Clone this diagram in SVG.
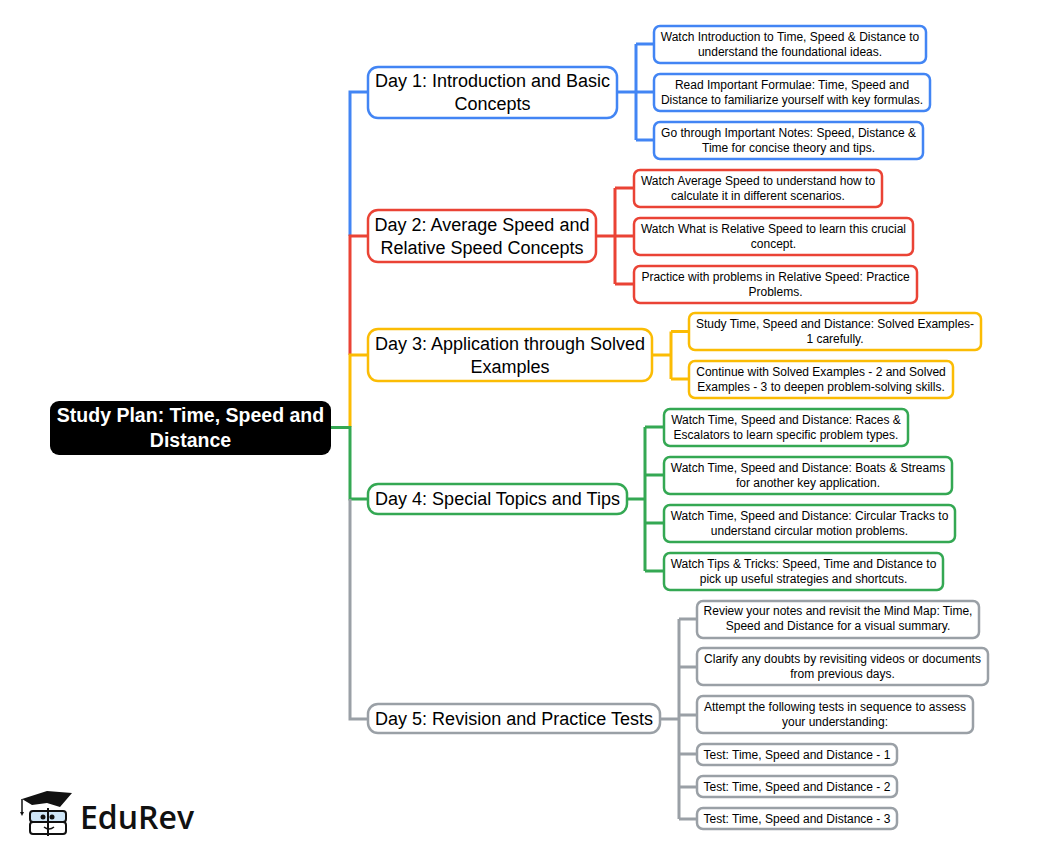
<svg xmlns="http://www.w3.org/2000/svg" width="1039" height="856" viewBox="0 0 1039 856">
<style>
text{font-family:"Liberation Sans",Arial,sans-serif;fill:#000;text-anchor:middle}
.d text{font-size:18px}
.c text{font-size:12px}
.n{fill:#fff;stroke-width:2.500}
.l{fill:none;stroke-width:3}
.b{stroke:#4285f4}.r{stroke:#ea4335}.y{stroke:#fbbc04}.g{stroke:#34a853}.a{stroke:#9aa0a6}
</style>
<rect width="1039" height="856" fill="#fff"/>
<g id="connectors">
<path class="l b" d="M368 92H350V236M617 92H654M636 44V140M636 44H654M636 140H654"/>
<path class="l r" d="M368 236H350V355M596 236H634M615 188V284M615 188H634M615 284H634"/>
<path class="l y" d="M368 355H350V427M652 355H671M671 331.500V379M671 331.500H689M671 379H689"/>
<path class="l g" d="M331 427.500H350V499H368M627 499H645M645 427V571M645 427H664M645 475H664M645 523H664M645 571H664"/>
<path class="l a" d="M350 499V719H368M660 719H679M679 619V819M679 619H697M679 667H697M679 715H697M679 754H697M679 787H697M679 819H697"/>
</g>
<g id="root"><rect x="50" y="401" width="281" height="54" rx="9" fill="#000"/><text x="190.500" y="422" style="font-size:19.500px;font-weight:700;fill:#fff">Study Plan: Time, Speed and</text><text x="190.500" y="447" style="font-size:19.500px;font-weight:700;fill:#fff">Distance</text></g>
<g id="day1" class="d"><rect class="n b" x="368" y="67" width="249" height="51" rx="10"/><text x="492.500" y="87">Day 1: Introduction and Basic</text><text x="492.500" y="110">Concepts</text></g>
<g id="day2" class="d"><rect class="n r" x="368" y="210" width="228" height="52" rx="10"/><text x="482" y="231">Day 2: Average Speed and</text><text x="482" y="254">Relative Speed Concepts</text></g>
<g id="day3" class="d"><rect class="n y" x="368" y="329" width="284" height="52" rx="10"/><text x="510" y="350">Day 3: Application through Solved</text><text x="510" y="373">Examples</text></g>
<g id="day4" class="d"><rect class="n g" x="368" y="484" width="259" height="30" rx="10"/><text x="497.500" y="505">Day 4: Special Topics and Tips</text></g>
<g id="day5" class="d"><rect class="n a" x="368" y="704" width="292" height="29" rx="10"/><text x="514" y="725">Day 5: Revision and Practice Tests</text></g>
<g id="c11" class="c"><rect class="n b" x="654" y="26" width="272" height="37" rx="6"/><text x="790" y="41">Watch Introduction to Time, Speed &amp; Distance to</text><text x="790" y="56">understand the foundational ideas.</text></g>
<g id="c12" class="c"><rect class="n b" x="654" y="74" width="276" height="37" rx="6"/><text x="792" y="89">Read Important Formulae: Time, Speed and</text><text x="792" y="104">Distance to familiarize yourself with key formulas.</text></g>
<g id="c13" class="c"><rect class="n b" x="654" y="122" width="269" height="37" rx="6"/><text x="788.500" y="137">Go through Important Notes: Speed, Distance &amp;</text><text x="788.500" y="152">Time for concise theory and tips.</text></g>
<g id="c21" class="c"><rect class="n r" x="634" y="170" width="248" height="37" rx="6"/><text x="758" y="185">Watch Average Speed to understand how to</text><text x="758" y="200">calculate it in different scenarios.</text></g>
<g id="c22" class="c"><rect class="n r" x="634" y="218" width="279" height="37" rx="6"/><text x="773.500" y="233">Watch What is Relative Speed to learn this crucial</text><text x="773.500" y="248">concept.</text></g>
<g id="c23" class="c"><rect class="n r" x="634" y="266" width="283" height="37" rx="6"/><text x="775.500" y="281">Practice with problems in Relative Speed: Practice</text><text x="775.500" y="296">Problems.</text></g>
<g id="c31" class="c"><rect class="n y" x="689" y="313" width="292" height="37" rx="6"/><text x="835" y="328">Study Time, Speed and Distance: Solved Examples-</text><text x="835" y="343">1 carefully.</text></g>
<g id="c32" class="c"><rect class="n y" x="689" y="361" width="264" height="37" rx="6"/><text x="821" y="376">Continue with Solved Examples - 2 and Solved</text><text x="821" y="391">Examples - 3 to deepen problem-solving skills.</text></g>
<g id="c41" class="c"><rect class="n g" x="664" y="409" width="244" height="37" rx="6"/><text x="786" y="424">Watch Time, Speed and Distance: Races &amp;</text><text x="786" y="439">Escalators to learn specific problem types.</text></g>
<g id="c42" class="c"><rect class="n g" x="664" y="457" width="288" height="37" rx="6"/><text x="808" y="472">Watch Time, Speed and Distance: Boats &amp; Streams</text><text x="808" y="487">for another key application.</text></g>
<g id="c43" class="c"><rect class="n g" x="664" y="505" width="291" height="37" rx="6"/><text x="809.500" y="520">Watch Time, Speed and Distance: Circular Tracks to</text><text x="809.500" y="535">understand circular motion problems.</text></g>
<g id="c44" class="c"><rect class="n g" x="664" y="553" width="279" height="37" rx="6"/><text x="803.500" y="568">Watch Tips &amp; Tricks: Speed, Time and Distance to</text><text x="803.500" y="583">pick up useful strategies and shortcuts.</text></g>
<g id="c51" class="c"><rect class="n a" x="697" y="601" width="282" height="37" rx="6"/><text x="838" y="615">Review your notes and revisit the Mind Map: Time,</text><text x="838" y="630">Speed and Distance for a visual summary.</text></g>
<g id="c52" class="c"><rect class="n a" x="697" y="648" width="291" height="37" rx="6"/><text x="842.500" y="663">Clarify any doubts by revisiting videos or documents</text><text x="842.500" y="678">from previous days.</text></g>
<g id="c53" class="c"><rect class="n a" x="697" y="696" width="276" height="37" rx="6"/><text x="835" y="711">Attempt the following tests in sequence to assess</text><text x="835" y="726">your understanding:</text></g>
<g id="c54" class="c"><rect class="n a" x="697" y="744" width="200" height="21" rx="6"/><text x="797" y="759">Test: Time, Speed and Distance - 1</text></g>
<g id="c55" class="c"><rect class="n a" x="697" y="776" width="200" height="21" rx="6"/><text x="797" y="791">Test: Time, Speed and Distance - 2</text></g>
<g id="c56" class="c"><rect class="n a" x="697" y="808" width="200" height="21" rx="6"/><text x="797" y="823">Test: Time, Speed and Distance - 3</text></g>
<g id="logo">
<rect x="30" y="811" width="36" height="11" rx="3" fill="#cfe6f7" stroke="#111" stroke-width="2"/>
<rect x="30" y="822" width="36" height="12" rx="3" fill="#fff" stroke="#111" stroke-width="2"/>
<path d="M48 808V836" stroke="#111" stroke-width="2" fill="none"/>
<path d="M22 799L47 791L72 793L60 807L47 803L32 805Z" fill="#111"/>
<path d="M22 799V813" stroke="#111" stroke-width="1.500" fill="none"/><path d="M20 812H24L22 816Z" fill="#111"/>
<circle cx="43" cy="817" r="2.500" fill="#111"/><circle cx="52" cy="817" r="2.500" fill="#111"/>
<path d="M44 827Q49 831 54 827" stroke="#111" stroke-width="1.500" fill="none"/>
<text x="80" y="829" style="font-family:'Open Sans',sans-serif;font-size:32px;font-weight:600;text-anchor:start;fill:#111">EduRev</text>
</g>
</svg>
